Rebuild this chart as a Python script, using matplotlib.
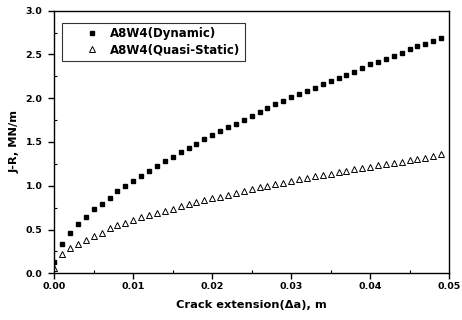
import matplotlib
matplotlib.use("Agg")
import matplotlib.pyplot as plt
from matplotlib.ticker import MultipleLocator

# crack extension (m) and J-R values (MN/m)
dyn_x = [0.0, 0.001, 0.002, 0.003, 0.004, 0.005, 0.006, 0.007, 0.008, 0.009,
         0.010, 0.011, 0.012, 0.013, 0.014, 0.015, 0.016, 0.017, 0.018, 0.019,
         0.020, 0.021, 0.022, 0.023, 0.024, 0.025, 0.026, 0.027, 0.028, 0.029,
         0.030, 0.031, 0.032, 0.033, 0.034, 0.035, 0.036, 0.037, 0.038, 0.039,
         0.040, 0.041, 0.042, 0.043, 0.044, 0.045, 0.046, 0.047, 0.048, 0.049]
dyn_j = [0.13, 0.34, 0.46, 0.56, 0.645, 0.73, 0.795, 0.863, 0.94, 1.0,
         1.057, 1.114, 1.17, 1.225, 1.28, 1.33, 1.38, 1.434, 1.476, 1.53,
         1.58, 1.625, 1.667, 1.71, 1.75, 1.80, 1.845, 1.884, 1.93, 1.967,
         2.01, 2.05, 2.085, 2.12, 2.157, 2.20, 2.233, 2.27, 2.30, 2.34,
         2.386, 2.415, 2.446, 2.484, 2.52, 2.557, 2.595, 2.618, 2.65, 2.69]

qs_x = dyn_x
qs_j = [0.06, 0.217, 0.285, 0.334, 0.38, 0.426, 0.457, 0.514, 0.55, 0.57,
        0.608, 0.64, 0.666, 0.69, 0.715, 0.74, 0.765, 0.79, 0.81, 0.84,
        0.856, 0.875, 0.90, 0.92, 0.94, 0.962, 0.98, 0.998, 1.016, 1.036,
        1.055, 1.073, 1.09, 1.106, 1.122, 1.138, 1.154, 1.17, 1.186, 1.202,
        1.217, 1.232, 1.247, 1.262, 1.277, 1.292, 1.306, 1.32, 1.335, 1.36]

plt.rcParams["font.family"] = ["DejaVu Sans"]
plt.rcParams["font.weight"] = "bold"

fig = plt.figure(figsize=(4.62, 3.2), dpi=100)
ax = fig.add_axes([0.1175, 0.146, 0.8545, 0.8206])

ax.plot(dyn_x, dyn_j, ls="none", marker="s", ms=3.5, color="black",
        label="A8W4(Dynamic)")
ax.plot(qs_x, qs_j, ls="none", marker="^", ms=4.5, mfc="white", mec="black",
        mew=0.7, label="A8W4(Quasi-Static)")

ax.set_xlim(0, 0.05)
ax.set_ylim(0, 3.0)
ax.xaxis.set_major_locator(MultipleLocator(0.01))
ax.xaxis.set_minor_locator(MultipleLocator(0.005))
ax.yaxis.set_major_locator(MultipleLocator(0.5))
ax.yaxis.set_minor_locator(MultipleLocator(0.25))
ax.xaxis.set_major_formatter(plt.FuncFormatter(lambda v, p: f"{v:.2f}"))
ax.yaxis.set_major_formatter(plt.FuncFormatter(lambda v, p: f"{v:.1f}"))
ax.tick_params(which="major", direction="out", length=4, width=1,
               labelsize=6.8)
ax.tick_params(axis="x", which="major", pad=2.5)
ax.tick_params(axis="y", which="major", pad=4.5)
ax.tick_params(which="minor", direction="in", length=2, width=0.8)
for s in ax.spines.values():
    s.set_linewidth(1)

ax.set_xlabel("Crack extension(\u0394a), m", fontsize=8.2, fontweight="bold",
              labelpad=6)
ax.set_ylabel("J-R, MN/m", fontsize=8.2, fontweight="bold", labelpad=4)

leg = ax.legend(loc="upper left", bbox_to_anchor=(0.019, 0.955), fontsize=8.5,
                frameon=True, fancybox=False, edgecolor="black",
                handletextpad=-0.75, borderpad=0.4, labelspacing=0.25,
                handlelength=4.4, borderaxespad=0)
leg.get_frame().set_linewidth(0.8)

fig.savefig("out.png", dpi=100)
